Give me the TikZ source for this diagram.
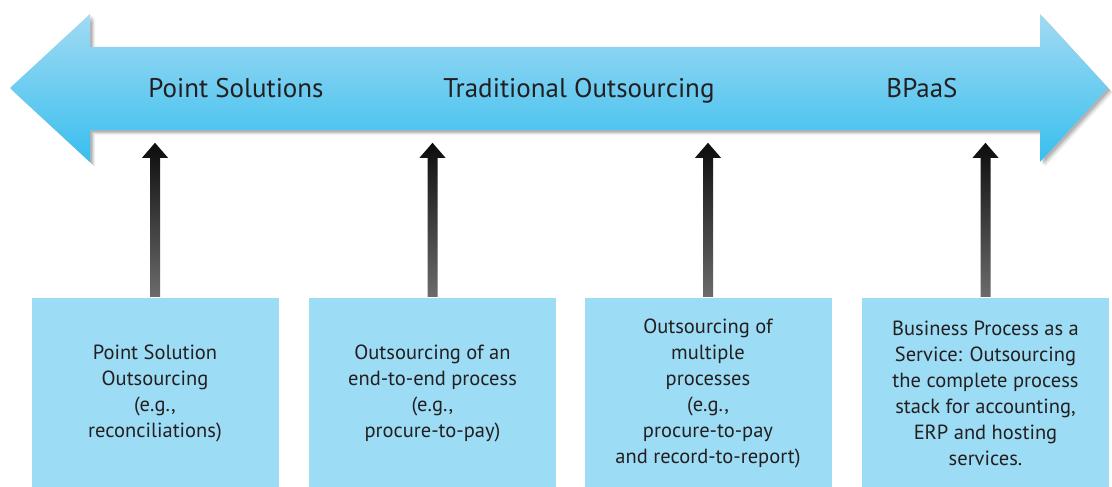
\documentclass[tikz,border=0pt]{standalone}
\usepackage{fontspec}
\setmainfont{PT Sans}
\usetikzlibrary{calc}
\definecolor{bandtop}{HTML}{A2DAF3}
\definecolor{bandbot}{HTML}{38BFEE}
\definecolor{boxfill}{HTML}{9DDCF5}
\definecolor{ink}{HTML}{231F20}
\begin{document}
\begin{tikzpicture}[x=1pt,y=-1pt,
  infobox/.style={fill=boxfill, minimum width=247pt, minimum height=190pt,
    align=center, font=\fontsize{20.5}{26}\selectfont, text=ink, inner sep=0pt},
  bandlabel/.style={font=\fontsize{27}{30}\selectfont, text=ink, anchor=base},
  pointer/.style={top color=black!95, bottom color=black!58, draw=none}]
\useasboundingbox (0,0) rectangle (1112,487);

% double-headed banner outline
\def\bandpath{(10,88) -- (90,14) -- (90,47) -- (1040,47) -- (1040,14) -- (1108,88)
  -- (1040,162) -- (1040,130) -- (90,130) -- (90,162) -- cycle}

% soft drop shadow
\foreach \o/\op in {5/0.05,4/0.07,3/0.09,2/0.12}{
  \fill[black,opacity=\op,xshift=\o pt,yshift=-\o pt] \bandpath;
}
% the banner itself
\shade[top color=bandtop, bottom color=bandbot] \bandpath;

\node[bandlabel] (ps) at (236,97) {Point Solutions};
\node[bandlabel] (to) at (579,97) {Traditional Outsourcing};
\node[bandlabel] (bp) at (922,97) {BPaaS};

% description boxes
\node[infobox] (b1) at (155,393) {Point Solution\\Outsourcing\\(e.g.,\\reconciliations)};
\node[infobox] (b2) at (432.5,393) {Outsourcing of an\\end-to-end process\\(e.g.,\\procure-to-pay)};
\node[infobox] (b3) at (708,393) {Outsourcing of\\multiple\\processes\\(e.g.,\\procure-to-pay\\and record-to-report)};
\node[infobox] (b4) at (985.5,393) {Business Process as a\\Service: Outsourcing\\the complete process\\stack for accounting,\\ERP and hosting\\services.};

% upward pointers from each box to the banner
\foreach \b in {b1,b2,b3,b4}{
  \shade[pointer] ($(\b.north)+(-5,-1)$) -- ($(\b.north)+(-5,-140)$)
    -- ($(\b.north)+(-13,-140)$) -- ($(\b.north)+(0,-155)$)
    -- ($(\b.north)+(13,-140)$) -- ($(\b.north)+(5,-140)$)
    -- ($(\b.north)+(5,-1)$) -- cycle;
}
\end{tikzpicture}
\end{document}
